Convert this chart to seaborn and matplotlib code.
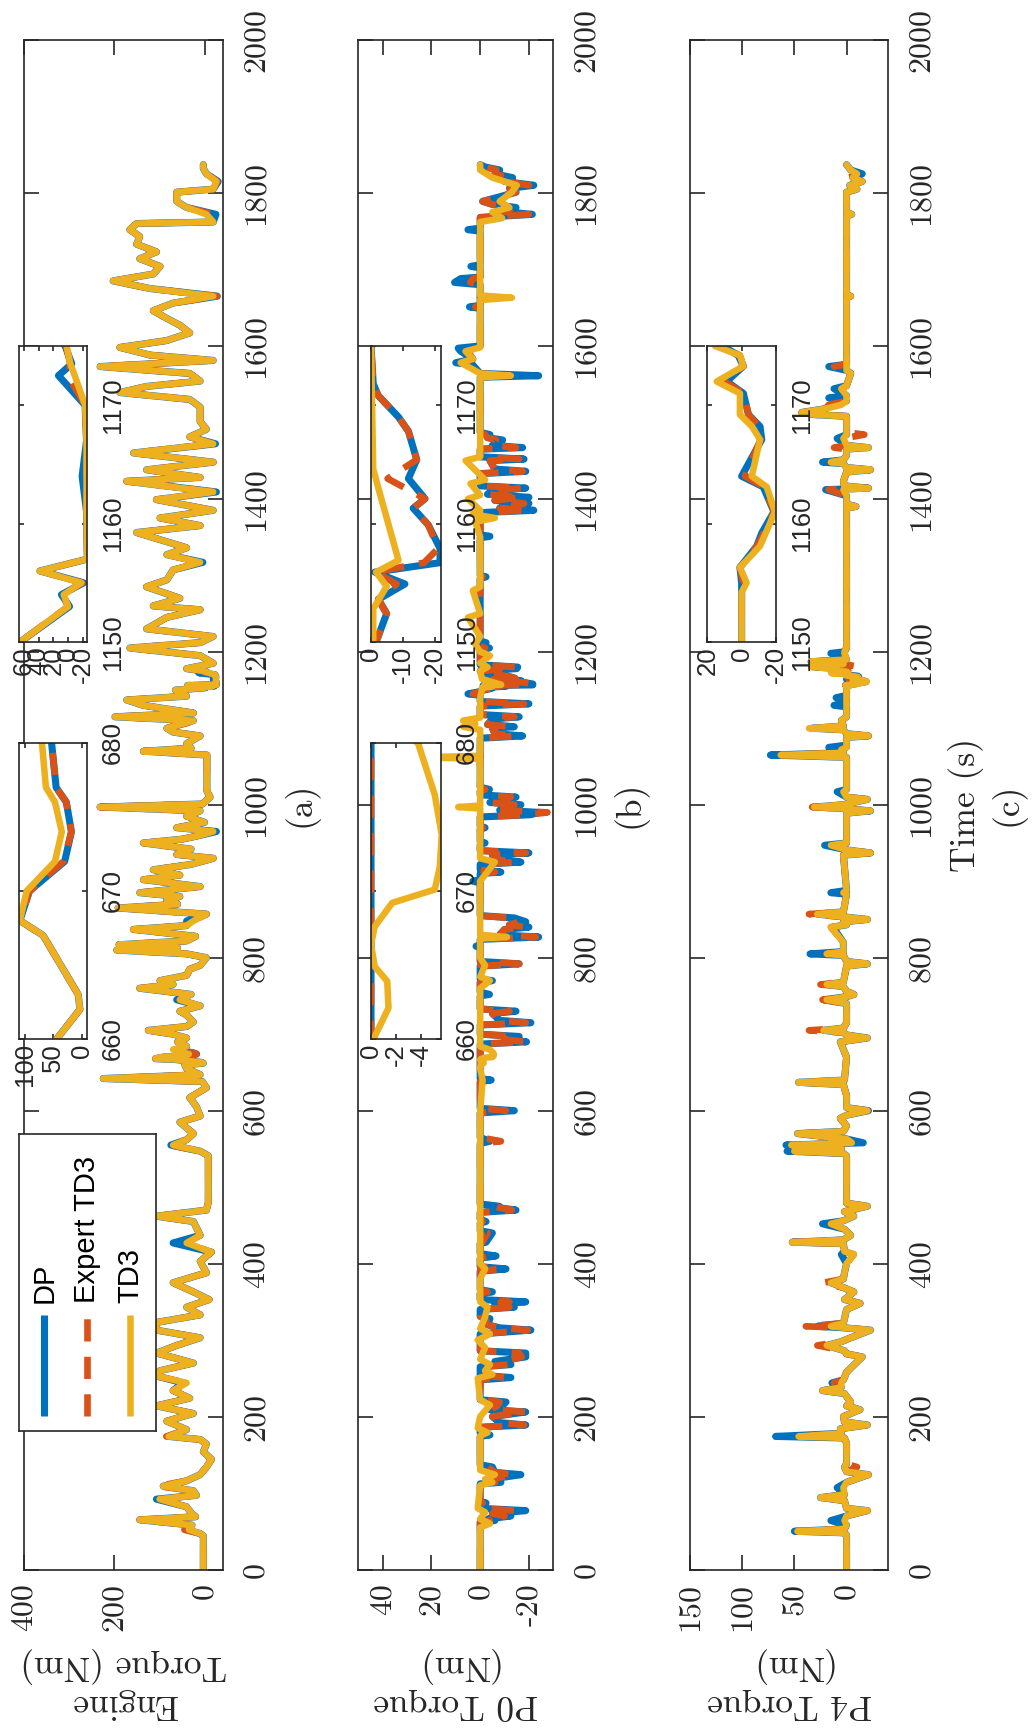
import matplotlib
matplotlib.use("Agg")
import matplotlib.pyplot as plt
import seaborn as sns

# ---------------------------------------------------------------------------
# Engine torque (Nm) versus time (s): shared time base for the three strategies
# ---------------------------------------------------------------------------
eng_t = [
    0, 44, 47, 52, 58, 65, 69, 74, 82, 92,
    97, 103, 109, 116, 124, 134, 144, 154, 164, 170,
    174, 183, 194, 204, 214, 224, 234, 244, 253, 260,
    270, 283, 293, 303, 313, 323, 333, 343, 353, 363,
    375, 388, 403, 415, 427, 437, 455, 462, 470, 480,
    541, 547, 555, 562, 570, 585, 593, 605, 617, 630,
    638, 642, 647, 655, 660, 662, 663, 667, 668, 670,
    672, 674, 676, 677, 680, 684, 690, 695, 700, 705,
    710, 716, 725, 730, 737, 745, 752, 760, 765, 770,
    777, 785, 790, 800, 805, 810, 813, 817, 822, 828,
    837, 842, 848, 857, 865, 870, 875, 880, 885, 893,
    902, 908, 915, 922, 930, 935, 942, 950, 955, 960,
    965, 970, 977, 985, 992, 997, 1001, 1010, 1018, 1065,
    1070, 1074, 1080, 1090, 1095, 1100, 1110, 1115, 1120, 1130,
    1137, 1142, 1150, 1153, 1154, 1155, 1156, 1157, 1161, 1164,
    1167, 1170, 1172.5, 1173.5, 1175, 1178, 1185, 1195, 1205, 1212,
    1220, 1230, 1245, 1255, 1260, 1270, 1285, 1294, 1307, 1317,
    1327, 1336, 1356, 1365, 1375, 1385, 1399, 1409, 1423, 1428,
    1438, 1448, 1460, 1472, 1481, 1491, 1501, 1520, 1530, 1539,
    1547, 1554, 1564, 1573, 1581, 1588, 1598, 1607, 1617, 1627,
    1636, 1646, 1656, 1665, 1675, 1685, 1694, 1704, 1714, 1723,
    1733, 1743, 1752, 1760, 1762, 1772, 1781, 1789, 1801, 1805,
    1815, 1825, 1832, 1837,
]
eng_dp = [
    3, 3, 10, 40, 28, 144, 20, 30, 40, 107,
    18, 25, 92, 40, 10, -4, -15, 3, -4, 10,
    80, 40, 84, 25, 107, 33, 70, 48, 107, 99,
    25, 107, 62, 10, 107, 107, 10, 40, -10, 25,
    70, -4, 10, -15, 70, 10, 25, 107, -4, -8,
    -8, 10, 75, 40, 25, 55, 10, 18, 33, -4,
    5, 225, 10, 40, 44, 3, 6, 68, 109, 92,
    30, 18, 27, 45, 53, 40, 60, 40, 70, 125,
    40, 25, 40, 55, 10, 62, 30, 144, 70, 99,
    40, 33, 10, -4, 40, 195, 60, 190, 40, 20,
    158, 40, 40, -4, 192, 60, 84, 55, 144, 10,
    136, 55, 114, 30, -19, 62, 30, 136, 50, 10,
    -26, 62, 0, 40, 10, 232, 5, -12, -5, -5,
    136, 30, 40, 10, 70, 84, 25, 199, 25, 136,
    173, 40, 65, -2, 9, -21, 38, -26, -25, -19,
    -25, -23, 13, -5, 4, 40, -19, 10, 166, 10,
    -19, 129, 84, 10, 114, 55, 129, 84, 70, 4,
    84, 40, 151, 10, 99, -19, 107, -26, 173, 10,
    129, -19, 158, -24, 33, -4, 10, 10, 33, 188,
    129, 10, 33, 232, -19, 121, 188, 84, 33, 55,
    84, 114, 70, -28, 121, 203, 114, 99, 144, 107,
    151, 144, 166, 151, -19, -25, 40, 62, 62, -19,
    -30, -4, 3, 3,
]
eng_expert = [
    3, 3, 10, 45, 28, 144, 20, 30, 40, 100,
    18, 25, 103, 40, 10, -4, -15, 3, -4, 10,
    85, 40, 84, 25, 107, 33, 70, 40, 107, 99,
    25, 107, 62, 10, 107, 107, 10, 40, -10, 25,
    70, -4, 10, -15, 40, 10, 25, 107, -4, -8,
    -8, 10, 78, 40, 25, 55, 10, 18, 33, -4,
    5, 225, 10, 40, 44, 3, 6, 68, 109, 92,
    32, 18, 27, 45, 53, 40, 60, 40, 70, 125,
    40, 25, 40, 55, 10, 55, 30, 144, 70, 99,
    40, 33, 10, -4, 40, 195, 60, 190, 40, 20,
    158, 40, 25, -4, 192, 60, 84, 55, 144, 10,
    136, 55, 114, 30, -19, 62, 30, 136, 50, 10,
    -22, 62, 0, 40, 10, 232, 5, -12, -5, -5,
    136, 30, 40, 10, 70, 84, 18, 199, 25, 136,
    173, 40, 65, 0, 7, -19, 38, -26, -25, -25,
    -25, -23, 0, -3, 3, 40, -19, 10, 166, 10,
    -19, 129, 84, 10, 114, 55, 129, 84, 70, 10,
    84, 40, 151, 10, 99, -19, 107, -22, 173, 10,
    129, -19, 158, -19, 33, -4, 10, 10, 33, 188,
    129, 10, 33, 232, -19, 121, 188, 84, 33, 55,
    84, 114, 70, -27, 121, 203, 114, 99, 144, 107,
    151, 144, 166, 151, -19, -20, 40, 62, 62, -19,
    -28, -4, 3, 3,
]
eng_td3 = [
    3, 3, 10, 35, 28, 144, 20, 30, 40, 100,
    18, 25, 92, 40, 10, -4, -15, 3, -4, 10,
    80, 40, 84, 25, 107, 33, 70, 40, 107, 99,
    25, 107, 62, 10, 107, 107, 10, 40, -10, 25,
    70, -4, 10, -15, 40, 10, 25, 107, -4, -8,
    -8, 10, 70, 40, 25, 55, 10, 18, 33, -4,
    5, 225, 10, 40, 44, 3, 6, 68, 109, 97,
    47, 35, 47, 63, 70, 40, 60, 40, 70, 125,
    40, 25, 40, 55, 10, 55, 30, 144, 70, 99,
    40, 33, 10, -4, 40, 195, 60, 190, 40, 20,
    158, 40, 25, -4, 192, 60, 84, 55, 144, 10,
    136, 55, 114, 30, -19, 62, 30, 136, 50, 10,
    -19, 62, 0, 40, 10, 232, 5, -12, -5, -5,
    136, 30, 40, 10, 70, 84, 25, 199, 25, 136,
    173, 40, 65, 0, 6, -18, 38, -26, -25, -25,
    -25, -23, -9, -3, 2, 40, -19, 10, 166, 10,
    -19, 129, 84, 10, 114, 55, 129, 84, 70, 10,
    84, 40, 151, 10, 99, -19, 107, -19, 173, 10,
    129, -19, 158, -19, 33, -4, 10, 10, 33, 188,
    129, 10, 33, 232, -19, 121, 188, 84, 33, 55,
    84, 114, 70, -19, 121, 203, 114, 99, 144, 107,
    151, 144, 166, 151, -19, -4, 40, 62, 62, -19,
    -26, -4, 3, 3,
]

# ---------------------------------------------------------------------------
# P0 motor torque (Nm): DP and expert share one time base, TD3 has its own
# ---------------------------------------------------------------------------
p0_t = [
    0, 62, 64, 66, 70, 73, 77, 80, 86, 87,
    89, 112, 114, 118, 124, 127, 134, 137, 174, 176,
    178, 186, 189, 192, 200, 206, 209, 214, 219, 222,
    248, 251, 254, 265, 268, 272, 278, 283, 286, 308,
    313, 316, 320, 328, 331, 340, 343, 347, 350, 353,
    361, 363, 366, 390, 393, 396, 407, 410, 413, 426,
    428, 440, 443, 453, 455, 458, 467, 470, 473, 475,
    478, 557, 560, 565, 597, 600, 603, 638, 640, 642,
    687, 690, 693, 697, 700, 712, 715, 718, 727, 730,
    733, 750, 752, 755, 768, 770, 772, 789, 792, 795,
    813, 815, 817, 824, 827, 830, 837, 840, 843, 847,
    852, 855, 898, 900, 902, 910, 912, 915, 922, 925,
    928, 934, 937, 940, 948, 950, 952, 968, 970, 972,
    984, 987, 990, 993, 1000, 1003, 1007, 1010, 1013, 1018,
    1020, 1023, 1087, 1090, 1093, 1100, 1102, 1105, 1112, 1115,
    1118, 1129, 1132, 1135, 1143, 1145, 1148, 1150, 1152.4, 1153.6,
    1154.9, 1155.9, 1156.7, 1157.9, 1159.9, 1161.3, 1162.1, 1163.8, 1165.4, 1167.8,
    1169, 1170.8, 1171.8, 1175, 1178, 1180, 1183, 1203, 1205, 1207,
    1210, 1212, 1214, 1296, 1298, 1300, 1349, 1351, 1353, 1382,
    1385, 1388, 1394, 1398, 1402, 1406, 1411, 1414, 1417, 1433,
    1436, 1439, 1450, 1452, 1455, 1465, 1467, 1470, 1477, 1480,
    1484, 1487, 1559, 1561, 1564, 1575, 1578, 1583, 1593, 1597,
    1600, 1649, 1651, 1653, 1680, 1683, 1688, 1690, 1702, 1704,
    1706, 1750, 1752, 1754, 1768, 1772, 1776, 1781, 1785, 1789,
    1795, 1801, 1806, 1810, 1815, 1820, 1825, 1830, 1834, 1837,
]
p0_dp = [
    0, 0, -6, -3, -12.6, -5, -18.7, 0, 0, -2.4,
    0, 0, -8.5, -4, -16.7, -6, -5, 0, 0, -4,
    0, 0, -18.7, -8, -5, -18.7, -4, -9, -10.6, 0,
    0, -12.6, 0, 0, -12.6, -6, -18.7, -18.7, 0, 0,
    -20.8, -8, -3, -4, 0, 0, -14, -6, -18.7, 0,
    0, -5, 0, 0, -10.6, 0, 0, -6.5, 0, 0,
    -2.4, -5, 0, 0, -2.4, 0, 0, -14.7, -8, -7.8,
    0, 0, -4, 0, 0, -14, 0, 0, -4.5, 0,
    0, -19, -10, -16, 0, 0, -20.8, -8, -5, -14.7,
    0, 0, -3.8, 0, 0, -5, 0, 0, -16, 0,
    0, 1.7, 0, 0, -24, -8, -10, -20, -12, -18.7,
    -14, 0, 0, 3, 0, 0, -8.5, 0, 0, -16.7,
    -8, -5, -20, 0, 0, -2, 0, 0, -2, 0,
    0, -20.8, -24, -8, -16.7, -4, -8, -14.7, 0, 0,
    -3.8, 0, 0, -17.4, -6, -5, -14, -3, -5, -16,
    0, 0, -20, 0, 0, 5, 0, -1.6, -4.9, -2.3,
    -10.6, -1.2, -21.6, -21.6, -17.9, -13.2, -16.9, -11.7, -14.3, -11.7,
    -8.6, -2.3, -0.7, 0, -15, -15.4, 0, 0, -3.8, 0,
    0, -2.4, 0, 0, -2.4, 0, 0, -4, 0, 0,
    -22, -8, -20, -6, -20, -3, -5, -18.7, 0, 0,
    -18.7, -6, -4, -18, 0, 0, -17.4, -5, -9.2, -3,
    -4, 0, 0, -24, 0, 3, 10, 3, 8, 9,
    0, 0, 4.4, 0, 0, 10.5, 8, 0, 0, 3.8,
    0, 0, 5, 0, 0, -21.4, -8, -14.7, -5, -1,
    -8, -14.7, -12, -22, -10, -13.3, -6, -8, -2, 0,
]
p0_expert = [
    0, 0, -4, -3, -10, -5, -14, 0, 0, -1,
    0, 0, -6, -4, -14, -6, -3, 0, 0, -2,
    0, 0, -18, -8, -5, -18.7, -4, -7, -8, 0,
    0, -10, 0, 0, -12, -10, -17, -16, 0, 0,
    -19.5, -8, -3, -2, 0, 0, -12, -6, -12, 0,
    0, -3, 0, 0, -8, 0, 0, -4, 0, 0,
    -1, -3, 0, 0, -1, 0, 0, -13, -8, -6,
    0, 0, -8.5, 0, 0, -10.6, 0, 0, -2, 0,
    0, -18.7, -10, -14, 0, 0, -18.7, -8, -5, -12,
    0, 0, -2.4, 0, 0, -3, 0, 0, -16, 0,
    0, 0, 0, 0, -22.8, -8, -10, -18.7, -12, -16,
    -12, 0, 0, 0, 0, 0, -6, 0, 0, -14.7,
    -8, -5, -18.7, 0, 0, -1, 0, 0, -1, 0,
    0, -20, -27.6, -8, -14, -4, -8, -12.6, 0, 0,
    -2, 0, 0, -14.7, -6, -5, -12, -3, -5, -14,
    0, 0, -18, 0, 0, 3, 0, -1.6, -4.9, -2.3,
    -8, -1.2, -16.6, -21, -17.9, -13.2, -16.9, -5.2, -14.3, -11.7,
    -8.6, -2.3, -0.7, 0, -13, -14.7, 0, 0, -2, 0,
    0, -1, 0, 0, -1, 0, 0, -2, 0, 0,
    -20, -8, -18, -6, -17, -3, -5, -17.4, 0, 0,
    -17.4, -6, -4, -16, 0, 0, -14.7, -5, -6.5, -3,
    -2, 0, 0, -12, 0, 3, 6, 3, 5, 6,
    0, 0, 2, 0, 0, 4, 3, 0, 0, 1,
    0, 0, 2, 0, 0, -20, -8, -12, -5, -1,
    -8, -14.7, -12, -20, -10, -12, -6, -6.5, -2, 0,
]
p0_td3_t = [
    0, 55, 60, 66, 75, 80, 110, 114, 118, 124,
    130, 175, 179, 185, 200, 215, 222, 250, 255, 260,
    268, 275, 290, 300, 308, 315, 330, 343, 350, 380,
    393, 400, 600, 640, 655, 660, 662.1, 663.9, 664.9, 666.4,
    667.6, 669.2, 670.1, 671.6, 673.8, 676.5, 679.9, 684, 760, 770,
    775, 790, 800, 825, 827, 830, 900, 925, 930, 995,
    997, 999, 1060, 1062, 1064, 1098, 1102, 1106, 1110, 1114,
    1140, 1150, 1152.8, 1154.7, 1155.9, 1156.9, 1163, 1164.6, 1175, 1180,
    1185, 1195, 1200, 1210, 1220, 1245, 1250, 1280, 1285, 1350,
    1370, 1375, 1380, 1385, 1400, 1405, 1420, 1425, 1450, 1455,
    1490, 1559, 1561, 1564, 1578, 1583, 1593, 1598, 1660, 1663,
    1666, 1762, 1767, 1775, 1781, 1789, 1801, 1810, 1820, 1830,
    1837,
]
p0_td3 = [
    0, 0, -4, 0, -2, 1, 0, -5, -2, -6,
    0, 0, -3, 1, 0, -4, 0, 1, -5, -2,
    -4, 0, -2, 1, -4, 0, -2, -3, 0, 0,
    -2, 0, 0, -1, 0, -0.2, -1.4, -1.3, -0.3, 0,
    -0.3, -1.7, -5.1, -5.5, -5.66, -5.1, -3.8, 0, 0, -4,
    0, -2, 0, 0, -11, 0, 0, -6, 0, 0,
    9, 0, 0, 25, 0, 0, 7, 2, 7, 0,
    0, -0.7, -0.7, -4.9, -1.6, -8.6, -2.3, -0.7, 0, -3,
    0, -4, 0, 2, 0, 5, 0, 3, 0, 0,
    2, -6, 3, 0, 5, 0, 4, -2, 6, 0,
    0, 0, -12.6, 0, 8, 3, 6, 0, 0, -13,
    0, 0, -9, -5, -12, -8, -13, -15, -5, 0,
    0,
]

# ---------------------------------------------------------------------------
# P4 motor torque (Nm): shared time base for the three strategies
# ---------------------------------------------------------------------------
p4_t = [
    0, 45, 48, 50, 53, 58, 64, 70, 77, 80,
    90, 94, 98, 107, 114, 124, 128, 134, 138, 165,
    172, 174, 178, 184, 189, 193, 200, 209, 214, 219,
    230, 234, 238, 244, 248, 258, 278, 282, 286, 293,
    298, 303, 313, 316, 318, 322, 328, 340, 348, 353,
    363, 368, 375, 380, 388, 400, 412, 416, 426, 428,
    431, 437, 445, 452, 456, 462, 468, 475, 479, 541,
    544, 547, 550, 555, 558, 563, 570, 573, 580, 590,
    594, 600, 604, 620, 634, 637, 640, 670, 690, 695,
    699, 702, 705, 708, 715, 740, 745, 749, 752, 756,
    762, 765, 768, 789, 792, 795, 803, 805, 808, 820,
    840, 843, 847, 850, 853, 857, 860, 883, 885, 888,
    934, 937, 941, 947, 950, 989, 992, 995, 997, 1000,
    1007, 1010, 1017, 1020, 1062, 1065, 1068, 1072, 1075, 1078,
    1088, 1090, 1093, 1098, 1100, 1103, 1110, 1115, 1128, 1130,
    1133, 1138, 1140, 1143, 1150, 1154.2, 1155, 1156.3, 1158.1, 1159.2,
    1161, 1163.1, 1164, 1167.1, 1168.2, 1169.2, 1171, 1172, 1173.3, 1174.2,
    1175, 1178, 1180, 1184, 1187, 1190, 1198, 1200, 1205, 1388,
    1390, 1393, 1404, 1412, 1414, 1417, 1423, 1435, 1438, 1441,
    1446, 1448, 1451, 1457, 1465, 1467, 1470, 1479, 1484, 1487,
    1508, 1510, 1513, 1518, 1523, 1528, 1532, 1535, 1544, 1548,
    1564, 1568, 1573, 1576, 1663, 1665, 1667, 1770, 1772, 1775,
    1801, 1805, 1810, 1815, 1820, 1825, 1830, 1837,
]
p4_dp = [
    0, 0, 3, 50, 2, 0, 15, 0, -20, 0,
    2, 25, 2, 9, 0, -21, 0, 2, 0, 0,
    2, 68, 5, 6, -20, 2, 3, -13, 0, -4,
    2, 23, 5, 14, 3, 0, -15, 0, 2, 19,
    5, -4, -23, 2, 28, 3, 2, 0, -13, 2,
    -7, 2, 15, 3, 2, 0, 5, 2, 3, 52,
    3, -4, 2, 23, 3, -7, 2, -20, 0, 0,
    3, 57, 5, 58, -16, 0, 47, 3, 0, 6,
    0, -21, 0, 0, 3, 46, 2, 0, 6, -20,
    0, 3, 22, 3, 0, 0, 22, 0, -7, 0,
    3, 19, 3, 0, -20, 0, 3, 35, 3, 3,
    13, 0, 3, -20, 0, 28, 3, 0, 15, 0,
    3, -23, 0, 21, 0, 0, -23, 3, 31, 3,
    -20, 0, 9, 0, 0, 73, 3, 5, 17, 0,
    0, -21, 0, 3, 33, 3, 5, 0, 0, 12,
    0, 0, 10, 0, 0, 0, 0, 1, -8.8, -11.7,
    -18.8, -12.6, 0, -11.7, -10.7, -4, -1, 8.7, -1, 2,
    11, 8, 30, 3, 34, 0, 15, 2, 0, 0,
    -9, 0, 0, 20, -21, 2, 3, 0, -23, 0,
    3, 23, 3, 0, 0, -21, 0, 9, 0, 0,
    0, 30, 43, 20, 12, 0, 17, 0, 12, 0,
    -4, 0, 17, 0, 0, -4, 0, 0, -5, 0,
    0, -10, -3, -15, -6, -15, -4, 0,
]
p4_expert = [
    0, 0, 3, 47, 2, 0, 2, 0, -20, 0,
    2, 25, 2, 5, 0, -21, 0, -10, 0, 0,
    2, 46, 5, 6, -20, 2, 3, -13, 0, -4,
    2, 23, 5, 12, 3, 0, -15, 0, 2, 28,
    5, -4, -23, 2, 39, 3, 2, 0, -13, 2,
    -7, 2, 22, 3, 2, 0, -7, 2, 3, 52,
    3, -4, 2, 15, 3, -7, 2, -21, 0, 0,
    3, 50, 5, 53, -5, 0, 47, 3, 0, 6,
    0, -20, 0, 0, 3, 46, 2, 0, 6, -20,
    0, 3, 36, 3, 0, 0, 23, 0, -7, 0,
    3, 25, 3, 0, -20, 0, 3, 19, 3, 3,
    15, 0, 3, -20, 0, 36, 3, 0, 3, 0,
    3, -23, 0, 9, 0, 0, -23, 3, 33, 3,
    -20, 0, 3, 0, 0, 63, 3, 5, 0, 0,
    0, -21, 0, 3, 28, 3, 5, 0, 0, 0,
    0, 0, 0, 0, 0, 0, -1, 1, -9, -13,
    -19, -13, -2, -11, -10, -4, -1, 10, -1, 1,
    12, 8, -13, 3, 34, 0, 2, 2, 0, 0,
    -9, 0, 0, 17, -21, 2, 3, 0, -23, 0,
    3, 15, 3, 0, 0, 12, 0, 3, -17, 0,
    0, 30, 43, 20, 17, 0, 0, 0, 5, 0,
    -4, 0, 12, 0, 0, -4, 0, 0, -5, 0,
    0, -10, -3, -15, -6, -5, -4, 0,
]
p4_td3 = [
    0, 0, 3, 47, 2, 0, 2, 0, -20, 0,
    2, 25, 2, 3, 0, -21, 0, 2, 0, 0,
    2, 46, 5, 6, -20, 2, 3, -13, 0, -4,
    2, 23, 5, 5, 3, 0, -15, 0, 2, 19,
    5, -4, -23, 2, 15, 3, 2, 0, -13, 2,
    -7, 2, 15, 3, 2, 0, -7, 2, 3, 52,
    3, -4, 2, 15, 3, -7, 2, -20, 0, 0,
    3, 50, 5, 53, -5, 0, 47, 3, 0, 6,
    0, -20, 0, 0, 3, 46, 2, 0, 6, -20,
    0, 3, 22, 3, 0, 0, 19, 0, -7, 0,
    3, 19, 3, 0, -20, 0, 3, 19, 3, 3,
    15, 0, 3, -20, 0, 28, 3, 0, 3, 0,
    3, -23, 0, 15, 0, 0, -23, 3, 31, 3,
    -20, 0, 3, 0, 0, 63, 3, 5, 0, 0,
    0, -21, 0, 3, 36, 3, 5, 0, 0, 0,
    0, 0, 0, 0, 0, 0, -2.9, 1, -10.7, -14,
    -19.4, -14.6, -5.9, -10.7, -6, 1, 1, 14.5, -1, 1,
    15.5, 10, 34, 3, 34, 0, 2, 2, 0, 0,
    -9, 0, 0, 3, -21, 2, 3, 0, -23, 0,
    3, 15, 3, 0, 0, -21, 0, 3, 0, 0,
    0, 30, 43, 20, 5, 0, 0, 0, 5, 0,
    -4, 0, 0, 0, 0, -4, 0, 0, -5, 0,
    0, -10, -3, -15, -6, -10, -4, 0,
]

# Axis ticks, limits and text
time_ticks = [0, 200, 400, 600, 800, 1000, 1200, 1400, 1600, 1800, 2000]
eng_ticks = [0, 200, 400]
p0_ticks = [-20, 0, 20, 40]
p4_ticks = [0, 50, 100, 150]
series_names = ["DP", "Expert TD3", "TD3"]
panel_ylabels = ["Engine\nTorque (Nm)", "P0 Torque\n(Nm)", "P4 Torque\n(Nm)"]
panel_tags = ["(a)", "(b)", "Time (s)\n(c)"]

for name, (a, b) in {
    "eng": (eng_t, eng_dp), "eng_e": (eng_t, eng_expert), "eng_3": (eng_t, eng_td3),
    "p0": (p0_t, p0_dp), "p0_e": (p0_t, p0_expert), "p0_3": (p0_td3_t, p0_td3),
    "p4": (p4_t, p4_dp), "p4_e": (p4_t, p4_expert), "p4_3": (p4_t, p4_td3),
}.items():
    assert len(a) == len(b), (name, len(a), len(b))

# ---------------------------------------------------------------------------
# Style
# ---------------------------------------------------------------------------
INK = "#262626"
C_DP, C_EX, C_TD3 = "#0072BD", "#D95319", "#EDB120"
LW_DP, LW_EX, LW_TD3 = 5.1, 4.8, 4.7
DASH = (0, (16, 11))
FRAME_LW = 1.2
SERIF = "cmr10"
SANS = "Liberation Sans"
TICK_FS, LAB_FS, INSET_FS, LEG_FS = 23, 25.5, 18.5, 21

sns.set_theme(style="ticks")
plt.rcParams.update({
    "font.family": [SERIF, "DejaVu Serif"],
    "axes.formatter.use_mathtext": True,
    "axes.edgecolor": INK,
    "axes.linewidth": FRAME_LW,
    "lines.solid_joinstyle": "round",
    "lines.solid_capstyle": "round",
    "lines.dash_capstyle": "butt",
    "lines.scale_dashes": False,
    "figure.facecolor": "white",
    "savefig.facecolor": "white",
    "axes.facecolor": "white",
})

W, H = 1032, 1736
fig = plt.figure(figsize=(W / 100, H / 100), dpi=100)


def px_rect(x0, y0, x1, y1):
    return [x0 / W, 1 - y1 / H, (x1 - x0) / W, (y1 - y0) / H]


def traces(ax, t_ref, dp, ex, t_td3, td3):
    common = dict(ax=ax, orient="y", sort=False, estimator=None, legend=False)
    sns.lineplot(x=dp, y=t_ref, color=C_DP, linewidth=LW_DP, **common)
    sns.lineplot(x=ex, y=t_ref, color=C_EX, linewidth=LW_EX, linestyle=DASH, **common)
    sns.lineplot(x=td3, y=t_td3, color=C_TD3, linewidth=LW_TD3, **common)


def frame(ax, xlim, xticks, ylim, yticks, fam, fs, tick_len, xpad, ypad):
    ax.set_xlim(*xlim)
    ax.set_ylim(*ylim)
    ax.tick_params(which="major", direction="in", length=tick_len, width=FRAME_LW,
                   color=INK, labelcolor=INK, bottom=True, top=True, left=True,
                   right=True, labelbottom=True, labeltop=False, labelleft=False,
                   labelright=True)
    ax.tick_params(axis="x", pad=xpad)
    ax.tick_params(axis="y", pad=ypad)
    ax.set_xticks(xticks)
    ax.set_xticklabels([str(v) for v in xticks], rotation=90, fontfamily=fam, fontsize=fs)
    ax.set_yticks(yticks)
    ax.set_yticklabels([str(v) for v in yticks], rotation=90, fontfamily=fam, fontsize=fs)
    for tk in ax.yaxis.get_major_ticks():
        tk.label2.set_verticalalignment("center")
    ax.minorticks_off()
    for sp in ax.spines.values():
        sp.set_visible(True)
        sp.set_color(INK)
        sp.set_linewidth(FRAME_LW)
    ax.set_xlabel("")
    ax.set_ylabel("")


def inset(box, data, xlim, xticks, ylim, yticks):
    iax = fig.add_axes(px_rect(*box))
    traces(iax, *data)
    frame(iax, xlim, xticks, ylim, yticks, SANS, INSET_FS, 3.6, 3, 10)
    return iax


MAIN_TOP, MAIN_BOTTOM = 40, 1569.5
panels = [
    dict(x=(24.3, 222.7), data=(eng_t, eng_dp, eng_expert, eng_t, eng_td3),
         xlim=(400, -40), xticks=eng_ticks),
    dict(x=(358.3, 553.3), data=(p0_t, p0_dp, p0_expert, p0_td3_t, p0_td3),
         xlim=(50, -30), xticks=p0_ticks),
    dict(x=(690.0, 888.3), data=(p4_t, p4_dp, p4_expert, p4_t, p4_td3),
         xlim=(150, -40), xticks=p4_ticks),
]

for i, p in enumerate(panels):
    ax = fig.add_axes(px_rect(p["x"][0], MAIN_TOP, p["x"][1], MAIN_BOTTOM))
    traces(ax, *p["data"])
    frame(ax, p["xlim"], p["xticks"], (0, 2000), time_ticks, SERIF, TICK_FS, 10.8, 10, 14)
    ax.set_xlabel(panel_ylabels[i], rotation=180, fontfamily=SERIF, fontsize=LAB_FS,
                  color=INK, linespacing=1.2)
    ax.xaxis.set_label_coords(0.5, -0.0505)
    ax.yaxis.set_label_position("right")
    ax.set_ylabel(panel_tags[i], rotation=90, fontfamily=SERIF, fontsize=LAB_FS,
                  color=INK, linespacing=1.2)
    ax.yaxis.set_label_coords(1.30, 0.5)

    if i == 0:
        # legend box
        lax = fig.add_axes(px_rect(19, 1134, 155.7, 1431))
        lax.set_xlim(0, 1)
        lax.set_ylim(0, 1)
        lax.set_xticks([])
        lax.set_yticks([])
        for sp in lax.spines.values():
            sp.set_color(INK)
            sp.set_linewidth(FRAME_LW)
        styles = [(C_DP, "-", LW_DP), (C_EX, DASH, LW_EX), (C_TD3, "-", LW_TD3)]
        for name, (col, ls, lw), xr in zip(series_names, styles, [0.185, 0.5, 0.812]):
            lax.plot([xr, xr], [0.05, 0.39], color=col, linestyle=ls, linewidth=lw,
                     solid_capstyle="butt")
            lax.text(xr, 0.43, name, rotation=90, rotation_mode="anchor", ha="left",
                     va="center", fontfamily=SANS, fontsize=LEG_FS, color="black")
        inset((19.3, 743, 87.3, 1039), p["data"], (110, -10), [0, 50, 100],
              (660, 680), [660, 670, 680])
        inset((19.3, 346, 87.3, 642), p["data"], (66, -26), [-20, 0, 20, 40, 60],
              (1150, 1175), [1150, 1160, 1170])
    elif i == 1:
        inset((371, 743, 441, 1039), p["data"], (0, -5.6), [-4, -2, 0],
              (660, 680), [660, 670, 680])
        inset((371, 346, 441, 642), p["data"], (0, -21.9), [-20, -10, 0],
              (1150, 1175), [1150, 1160, 1170])
    else:
        inset((707.3, 346, 776, 642), p["data"], (20, -20), [-20, 0, 20],
              (1150, 1175), [1150, 1160, 1170])

fig.savefig("out.png", dpi=100)
